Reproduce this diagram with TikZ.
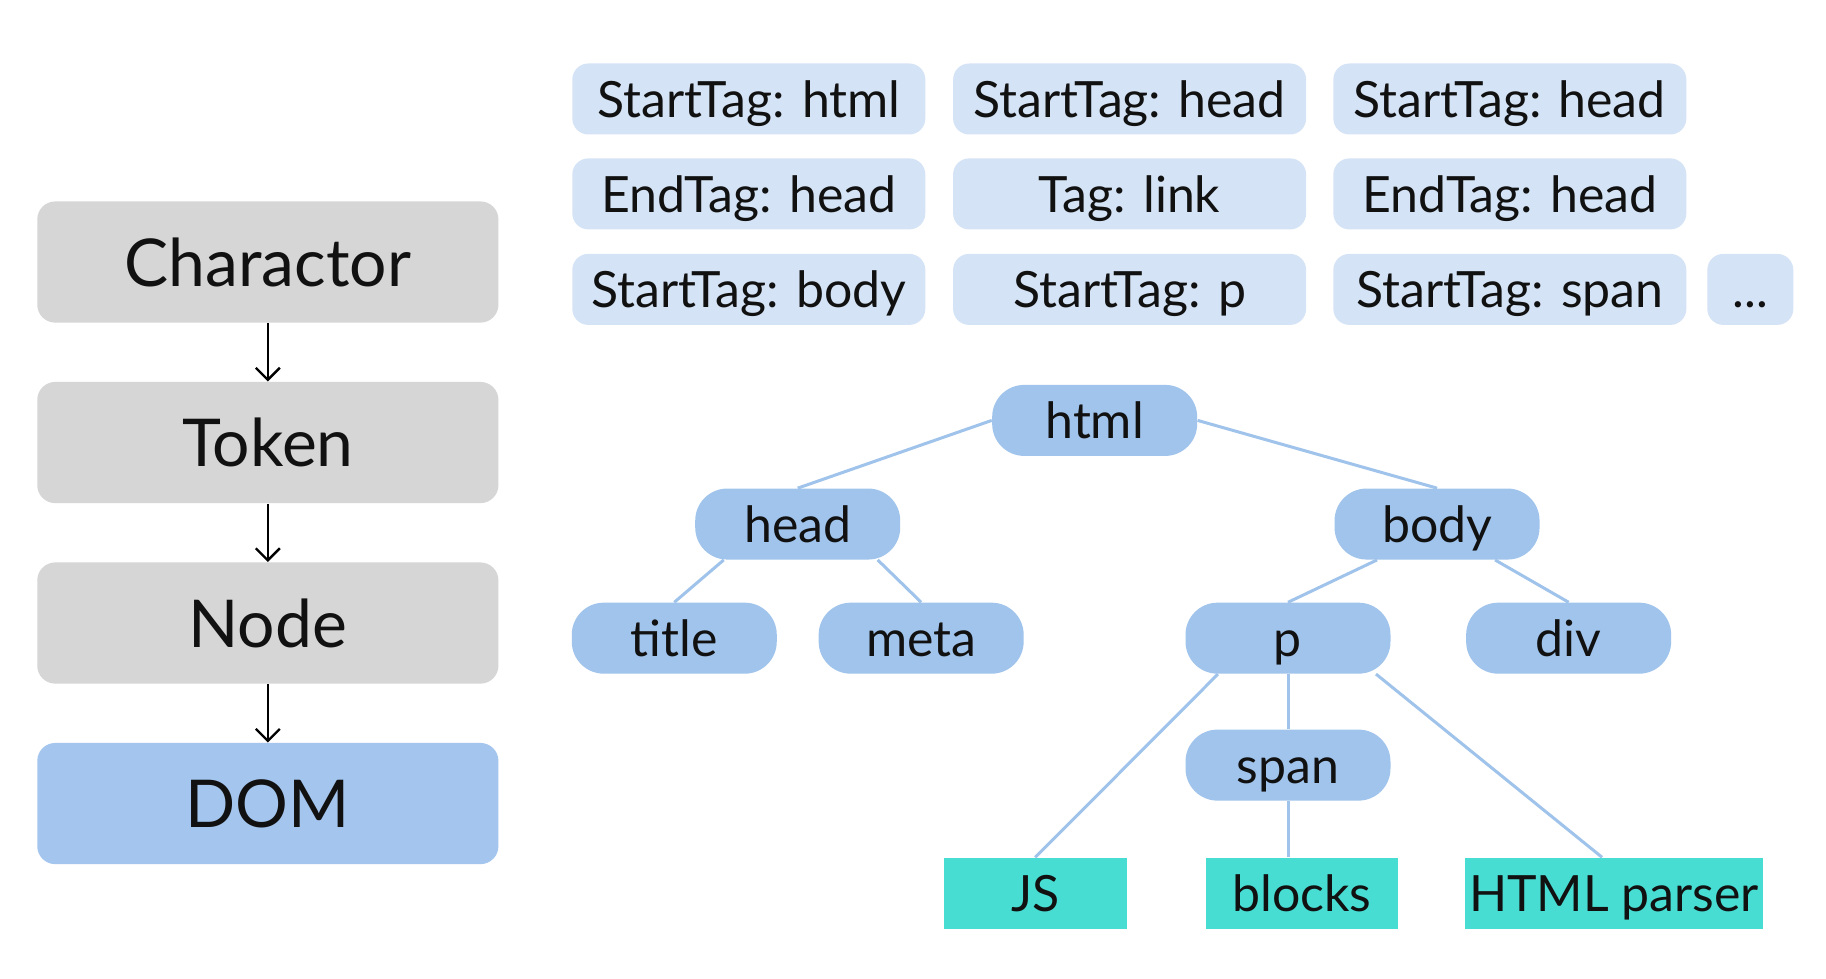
\documentclass[tikz,border=0pt]{standalone}
\usepackage{fontspec}
\setmainfont{Lato}
\usetikzlibrary{arrows.meta}
\definecolor{stagegray}{HTML}{D6D6D6}
\definecolor{domblue}{HTML}{A3C5EE}
\definecolor{tokblue}{HTML}{D4E3F5}
\definecolor{treeblue}{HTML}{A1C4EC}
\definecolor{teal}{HTML}{47DDD3}
\definecolor{edgeblue}{HTML}{9FC3EA}
\definecolor{ink}{HTML}{111111}
\begin{document}
\begin{tikzpicture}[x=0.5823pt,y=-0.5823pt,
  txt/.style={text height=18.2pt,text depth=0pt,text=ink,inner sep=0pt},
  stage/.style={txt,text height=24pt,fill=stagegray,rounded corners=9pt,minimum width=230.6pt,minimum height=60.6pt,font=\fontsize{33}{40}\selectfont},
  tok/.style={txt,fill=tokblue,rounded corners=8pt,minimum width=176.5pt,minimum height=35.5pt,font=\fontsize{25}{30}\selectfont},
  tree/.style={txt,fill=treeblue,rounded corners=16pt,minimum width=102.5pt,minimum height=35.5pt,font=\fontsize{25}{30}\selectfont},
  leaf/.style={txt,fill=teal,minimum height=35.5pt,font=\fontsize{25}{30}\selectfont},
  flow/.style={draw=black,line width=1.2pt,-{Straight Barb[length=6pt,width=12pt]}},
  link/.style={draw=edgeblue,line width=1.5pt}
]
\fill[white] (0,0) rectangle (1568,840);
\useasboundingbox (0,0) rectangle (1568,840);

% left pipeline
\node[stage] (c) at (230,225) {Charactor};
\node[stage] (t) at (230,380) {Token};
\node[stage] (n) at (230,535) {Node};
\node[stage,fill=domblue] (d) at (230,690) {DOM};
\draw[flow] (c) -- (t);
\draw[flow] (t) -- (n);
\draw[flow] (n) -- (d);

% tokens
\node[tok] (k11) at (643,85) {StartTag: html};
\node[tok] (k12) at (970,85) {StartTag: head};
\node[tok] (k13) at (1296.5,85) {StartTag: head};
\node[tok] (k21) at (643,166.5) {EndTag: head};
\node[tok] (k22) at (970,166.5) {Tag: link};
\node[tok] (k23) at (1296.5,166.5) {EndTag: head};
\node[tok] (k31) at (643,248.5) {StartTag: body};
\node[tok] (k32) at (970,248.5) {StartTag: p};
\node[tok] (k33) at (1296.5,248.5) {StartTag: span};
\node[tok,minimum width=43pt] (k34) at (1503,248.5) {...};

% tree
\node[tree] (html) at (940,361) {html};
\node[tree] (head) at (685,450) {head};
\node[tree] (body) at (1234,450) {body};
\node[tree] (title) at (579,548) {title};
\node[tree] (meta) at (791,548) {meta};
\node[tree] (p) at (1106,548) {p};
\node[tree] (div) at (1347,548) {div};
\node[tree] (span) at (1106,657) {span};
\node[leaf,minimum width=91.4pt] (js) at (889,767) {JS};
\node[leaf,minimum width=96pt] (blocks) at (1118,767) {blocks};
\node[leaf,minimum width=149pt] (parser) at (1386,767) {HTML parser};

\draw[link] (html.west) -- (head.north);
\draw[link] (html.east) -- (body.north);
\draw[link] ([xshift=-37pt]head.south) -- (title.north);
\draw[link] ([xshift=40pt]head.south) -- (meta.north);
\draw[link] ([xshift=-30pt]body.south) -- (p.north);
\draw[link] ([xshift=29pt]body.south) -- (div.north);
\draw[link] ([xshift=-35pt]p.south) -- (js.north);
\draw[link] (p.south) -- (span.north);
\draw[link] ([xshift=44pt]p.south) -- ([xshift=-6pt]parser.north);
\draw[link] (span.south) -- (span.south |- blocks.north);
\end{tikzpicture}
\end{document}
